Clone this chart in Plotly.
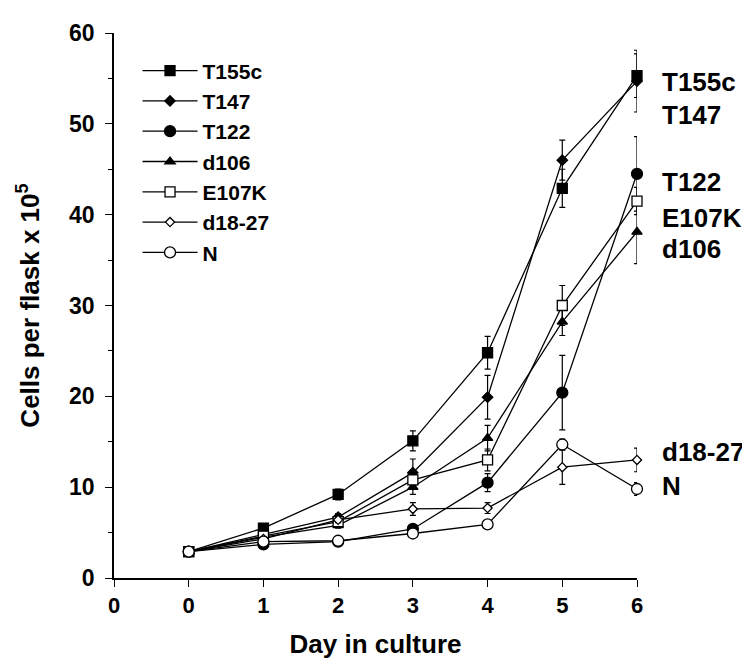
import plotly.graph_objects as go

days = [0, 1, 2, 3, 4, 5, 6]
series_names = ["T155c", "T147", "T122", "d106", "E107K", "d18-27", "N"]
T155c = [2.9, 5.5, 9.2, 15.1, 24.8, 42.9, 55.3]
T155c_err = [0.2, 0.3, 0.6, 1.1, 1.8, 2.1, 2.4]
T147 = [2.9, 4.8, 6.7, 11.6, 19.9, 46.0, 54.7]
T147_err = [0.2, 0.3, 0.4, 1.5, 2.4, 2.2, 3.4]
T122 = [2.9, 3.7, 4.0, 5.4, 10.5, 20.4, 44.5]
T122_err = [0.2, 0.2, 0.3, 0.4, 1.0, 4.1, 4.1]
d106 = [2.9, 4.5, 5.8, 10.0, 15.4, 28.2, 38.1]
d106_err = [0.2, 0.3, 0.3, 0.8, 1.4, 1.5, 3.5]
E107K = [2.9, 4.6, 6.2, 10.8, 13.0, 30.0, 41.5]
E107K_err = [0.2, 0.3, 0.3, 0.6, 1.2, 2.2, 1.5]
d18_27 = [2.9, 4.3, 6.4, 7.6, 7.7, 12.2, 13.0]
d18_27_err = [0.2, 0.2, 0.3, 0.7, 0.6, 1.9, 1.3]
N = [2.9, 4.0, 4.1, 4.9, 5.9, 14.7, 9.8]
N_err = [0.2, 0.2, 0.2, 0.3, 0.3, 0.6, 0.7]

x_tickvals = [-1, 0, 1, 2, 3, 4, 5, 6]
x_ticktext = ["0", "0", "1", "2", "3", "4", "5", "6"]
y_tickvals = [0, 10, 20, 30, 40, 50, 60]

# end-of-line label placement (data-space y positions)
end_labels = ["T155c", "T147", "T122", "E107K", "d106", "d18-27", "N"]
end_label_y = [54.6, 51.0, 43.6, 39.6, 36.2, 13.9, 10.1]

values = [T155c, T147, T122, d106, E107K, d18_27, N]
errors = [T155c_err, T147_err, T122_err, d106_err, E107K_err, d18_27_err, N_err]
styles = [
    dict(symbol="square", size=10, color="black"),
    dict(symbol="diamond", size=8, color="black"),
    dict(symbol="circle", size=11, color="black"),
    dict(symbol="triangle-up", size=9, color="black"),
    dict(symbol="square", size=10, color="white"),
    dict(symbol="diamond", size=7, color="white"),
    dict(symbol="circle", size=11, color="white"),
]

FONT = "Liberation Sans, Arial, sans-serif"

fig = go.Figure()
for name, vals, err, st in zip(series_names, values, errors, styles):
    fig.add_trace(go.Scatter(
        x=days, y=vals, name=name, mode="lines+markers",
        legendgroup=name,
        line=dict(color="black", width=1.3),
        marker=dict(symbol=st["symbol"], size=st["size"], color=st["color"],
                    line=dict(color="black", width=1.3)),
        error_y=dict(type="data", array=err, visible=True, color="black",
                     thickness=1.2, width=3),
        cliponaxis=False,
    ))

for lab, ly in zip(end_labels, end_label_y):
    fig.add_annotation(x=6, y=ly, text=lab, showarrow=False, xanchor="left",
                       xshift=23, font=dict(family=FONT, size=26, color="black",
                                            weight="bold"))

fig.update_layout(
    width=750, height=659, autosize=False,
    margin=dict(l=106, r=121, t=18, b=89),
    paper_bgcolor="white", plot_bgcolor="white",
    font=dict(family=FONT, color="black", weight="bold"),
    showlegend=True,
    legend=dict(x=0.045, y=0.968, xanchor="left", yanchor="top",
                font=dict(family=FONT, size=21, color="black", weight="bold"),
                bgcolor="rgba(0,0,0,0)", tracegroupgap=0, itemsizing="trace",
                itemwidth=55),
    xaxis=dict(range=[-1, 6], tickvals=x_tickvals, ticktext=x_ticktext,
               showline=True, linecolor="black", linewidth=1.5,
               ticks="outside", ticklen=7, tickwidth=1.3, tickcolor="black",
               showgrid=False, zeroline=False,
               tickfont=dict(family=FONT, size=22, color="black", weight="bold"),
               title=dict(text="Day in culture", standoff=18,
                          font=dict(family=FONT, size=26, color="black", weight="bold"))),
    yaxis=dict(range=[0, 60], tickvals=y_tickvals,
               showline=True, linecolor="black", linewidth=1.5,
               ticks="outside", ticklen=7, tickwidth=1.3, tickcolor="black",
               minor=dict(dtick=5, ticks="outside", ticklen=4, tickcolor="black", tickwidth=1),
               showgrid=False, zeroline=False, ticklabelstandoff=6,
               tickfont=dict(family=FONT, size=23, color="black", weight="bold"),
               title=dict(text="Cells per flask x 10<sup>5</sup>", standoff=22,
                          font=dict(family=FONT, size=26, color="black", weight="bold"))),
)

fig.write_html("out.html")
